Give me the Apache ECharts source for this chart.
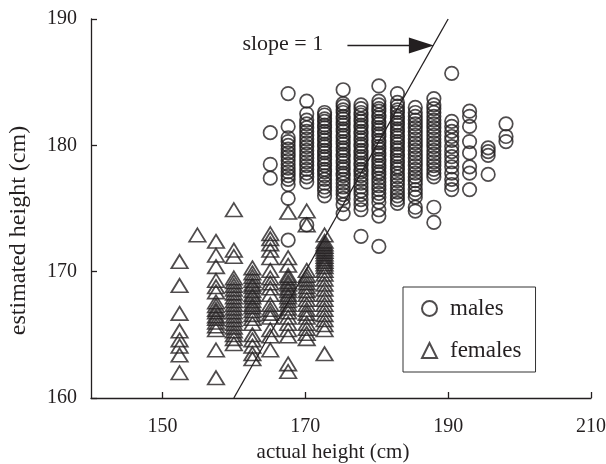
<!DOCTYPE html>
<html>
<head>
<meta charset="utf-8">
<script src="https://cdn.jsdelivr.net/npm/echarts@6/dist/echarts.min.js"></script>
<style>
html,body{margin:0;padding:0;background:#fff;}
#chart{width:606px;height:464px;}
</style>
</head>
<body>
<div id="chart"></div>
<script>
// ---- data ----
const xTickValues = [150, 170, 190, 210];
const yTickValues = [160, 170, 180, 190];

const maleActual = [165.1, 167.6, 170.2, 172.7, 175.3, 177.8, 180.3, 182.9, 185.4, 188.0, 190.5, 193.0, 195.6, 198.1];
const maleEstimated = [
  [181.0, 178.5, 177.4],
  [184.1, 181.5, 180.6, 180.3, 180.0, 179.7, 179.4, 179.1, 178.8, 178.5, 178.2, 177.9, 177.6, 177.3, 176.9, 175.8, 172.5],
  [183.5, 182.5, 182.0, 181.7, 181.4, 181.1, 180.8, 180.5, 180.2, 179.9, 179.6, 179.3, 179.0, 178.7, 178.4, 178.1, 177.8, 177.5, 177.1, 173.7],
  [182.6, 182.4, 182.1, 181.9, 181.6, 181.4, 181.1, 180.9, 180.6, 180.4, 180.1, 179.9, 179.6, 179.4, 179.1, 178.9, 178.6, 178.4, 178.1, 177.9, 177.6, 177.3, 177.0, 176.7, 176.4, 176.0],
  [184.4, 183.3, 183.1, 182.8, 182.6, 182.3, 182.1, 181.8, 181.6, 181.3, 181.1, 180.8, 180.6, 180.3, 180.1, 179.8, 179.6, 179.3, 179.1, 178.8, 178.6, 178.3, 178.1, 177.8, 177.6, 177.3, 177.0, 176.7, 176.4, 176.1, 175.8, 175.3, 174.6],
  [183.2, 182.9, 182.6, 182.4, 182.1, 181.9, 181.6, 181.4, 181.1, 180.9, 180.6, 180.4, 180.1, 179.9, 179.6, 179.4, 179.1, 178.9, 178.6, 178.4, 178.1, 177.9, 177.6, 177.3, 177.0, 176.7, 176.4, 176.1, 175.7, 175.3, 174.9, 172.8],
  [184.7, 183.5, 183.2, 182.9, 182.7, 182.4, 182.2, 181.9, 181.7, 181.4, 181.2, 180.9, 180.7, 180.4, 180.2, 179.9, 179.7, 179.4, 179.2, 178.9, 178.7, 178.4, 178.2, 177.9, 177.7, 177.4, 177.1, 176.8, 176.5, 176.2, 175.9, 175.5, 174.9, 174.4, 172.0],
  [184.1, 183.4, 183.1, 182.8, 182.6, 182.3, 182.1, 181.8, 181.6, 181.3, 181.1, 180.8, 180.6, 180.3, 180.1, 179.8, 179.6, 179.3, 179.1, 178.8, 178.6, 178.3, 178.1, 177.8, 177.5, 177.2, 176.9, 176.6, 176.3, 176.0, 175.7, 175.4],
  [183.0, 182.6, 182.3, 182.0, 181.7, 181.4, 181.1, 180.8, 180.5, 180.2, 179.9, 179.6, 179.3, 179.0, 178.7, 178.4, 178.1, 177.8, 177.5, 177.2, 176.9, 176.5, 176.2, 175.9, 175.1, 174.8],
  [183.7, 183.2, 182.9, 182.6, 182.3, 182.0, 181.7, 181.4, 181.1, 180.8, 180.5, 180.2, 179.9, 179.6, 179.3, 179.0, 178.7, 178.4, 178.1, 177.8, 177.5, 175.1, 173.9],
  [185.7, 181.9, 181.5, 181.1, 180.7, 180.4, 179.9, 179.5, 179.1, 178.7, 178.3, 177.8, 177.3, 176.9, 176.5],
  [182.7, 182.3, 181.5, 180.3, 179.4, 178.3, 177.8, 176.5],
  [179.8, 179.5, 179.2, 177.7],
  [181.7, 180.7, 180.3]
];

const femaleActual = [152.4, 154.9, 157.5, 160.0, 162.6, 165.1, 167.6, 170.2, 172.7];
const femaleEstimated = [
  [170.8, 168.9, 166.7, 165.3, 164.6, 164.1, 163.4, 162.0],
  [172.9],
  [172.4, 171.3, 170.4, 169.3, 168.8, 168.4, 167.6, 167.3, 167.0, 166.8, 166.5, 166.3, 166.0, 165.7, 165.4, 163.8, 161.6],
  [174.9, 171.7, 171.2, 169.5, 169.2, 168.9, 168.6, 168.3, 168.0, 167.7, 167.4, 167.1, 166.8, 166.5, 166.2, 165.9, 165.6, 165.3, 165.0, 164.7, 164.3],
  [170.3, 169.9, 169.6, 169.3, 169.0, 168.8, 168.5, 168.2, 168.0, 167.7, 167.4, 167.2, 166.9, 166.6, 166.3, 165.9, 165.0, 164.6, 164.1, 163.5, 163.1],
  [173.0, 172.6, 172.2, 171.7, 171.1, 170.1, 169.5, 169.1, 168.7, 168.2, 167.4, 167.0, 166.7, 166.4, 165.4, 164.9, 163.8],
  [174.7, 171.1, 170.5, 169.7, 169.5, 169.2, 169.0, 168.7, 168.5, 168.2, 168.0, 167.7, 167.4, 167.1, 166.8, 166.4, 165.9, 165.4, 164.9, 162.7, 162.1],
  [174.8, 173.7, 170.1, 169.7, 169.4, 169.1, 168.8, 168.5, 168.2, 167.8, 167.4, 167.0, 166.7, 166.4, 165.9, 165.5, 165.1, 164.7],
  [172.9, 172.4, 172.2, 172.0, 171.8, 171.6, 171.4, 171.2, 171.0, 170.8, 170.6, 170.4, 170.1, 169.8, 169.4, 169.0, 168.6, 168.2, 167.8, 167.4, 167.0, 166.6, 166.2, 165.8, 165.4, 163.5]
];

const identityLine = [160, 190];
const annotationText = 'slope = 1';
const arrowFrom = [175.9, 187.9];
const arrowTo = [188.0, 187.9];
const annotationAt = [161.2, 188.0];

// ---- build ----
function pairs(actual, est) {
  const out = [];
  actual.forEach((x, i) => est[i].forEach(y => out.push([x, y])));
  return out;
}
const INK = '#231f20';
const FONT = 'Liberation Serif';

const chart = echarts.init(document.getElementById('chart'), null, {renderer: 'canvas'});
chart.setOption({
  animation: false,
  backgroundColor: '#fff',
  grid: {left: 91, right: 15, top: 19, bottom: 66, containLabel: false, outerBoundsMode: 'none'},
  xAxis: {
    type: 'value', min: 140, max: 210, interval: 10,
    axisLine: {lineStyle: {color: INK, width: 1.3}},
    axisTick: {inside: true, length: 6, customValues: xTickValues, lineStyle: {color: INK, width: 1.3}},
    axisLabel: {customValues: xTickValues, fontSize: 20, fontFamily: FONT, color: INK, margin: 19},
    splitLine: {show: false},
    name: 'actual height (cm)', nameLocation: 'middle', nameGap: 44,
    nameTextStyle: {fontSize: 21, fontFamily: FONT, color: INK, padding: [0, 16, 0, 0]}
  },
  yAxis: {
    type: 'value', min: 160, max: 190, interval: 10,
    axisLine: {lineStyle: {color: INK, width: 1.3}},
    axisTick: {inside: true, length: 6, customValues: yTickValues, lineStyle: {color: INK, width: 1.3}},
    axisLabel: {customValues: yTickValues, fontSize: 20, fontFamily: FONT, color: INK, margin: 14},
    splitLine: {show: false},
    name: 'estimated height (cm)', nameLocation: 'middle', nameGap: 60, nameRotate: 90,
    nameTextStyle: {fontSize: 24, fontFamily: FONT, color: INK, padding: [0, 44, 0, 0]}
  },
  legend: {
    orient: 'vertical', left: 403, top: 287,
    padding: [10, 14, 10, 18], itemGap: 19, itemWidth: 15, itemHeight: 15,
    borderColor: '#333', borderWidth: 1,
    textStyle: {fontSize: 23, fontFamily: FONT, color: INK, padding: [0, 0, 0, 8]},
    data: ['males', 'females']
  },
  series: [
    {
      name: 'males', type: 'scatter', symbol: 'circle', symbolSize: 13.5,
      itemStyle: {color: 'rgba(0,0,0,0)', borderColor: INK, borderWidth: 1.7},
      data: pairs(maleActual, maleEstimated)
    },
    {
      name: 'females', type: 'scatter', symbol: 'triangle', symbolSize: [16.5, 13.5],
      itemStyle: {color: 'rgba(0,0,0,0)', borderColor: INK, borderWidth: 1.7},
      data: pairs(femaleActual, femaleEstimated)
    },
    {
      name: 'slope', type: 'line', symbol: 'none', silent: true,
      lineStyle: {color: INK, width: 1.3},
      data: identityLine.map(v => [v, v])
    }
  ]
});

const a = chart.convertToPixel({gridIndex: 0}, arrowFrom);
const b = chart.convertToPixel({gridIndex: 0}, arrowTo);
const t = chart.convertToPixel({gridIndex: 0}, annotationAt);
chart.setOption({
  graphic: [
    {type: 'line', shape: {x1: a[0], y1: a[1], x2: b[0] - 20, y2: b[1]}, style: {stroke: INK, lineWidth: 1.5}},
    {type: 'polygon', shape: {points: [[b[0], b[1]], [b[0] - 25, b[1] - 8], [b[0] - 25, b[1] + 8]]}, style: {fill: INK}},
    {type: 'text', x: t[0], y: t[1], style: {text: annotationText, font: '22px "Liberation Serif"', fill: INK, verticalAlign: 'middle', align: 'left'}}
  ]
});
</script>
</body>
</html>
